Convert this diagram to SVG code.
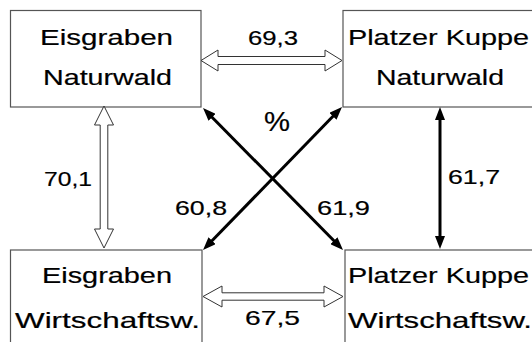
<svg xmlns="http://www.w3.org/2000/svg" width="532" height="342" viewBox="0 0 532 342">
<style>
.box{fill:#fff;stroke:#555;stroke-width:1.2}
.t{font-family:"Liberation Sans",Arial,sans-serif;font-size:22px;fill:#000;stroke:#000;stroke-width:0.2}
.n{font-family:"Liberation Sans",Arial,sans-serif;font-size:21px;fill:#000;stroke:#000;stroke-width:0.2}
.hollow{fill:#fff;stroke:#333;stroke-width:1}
.solid{stroke:#000;stroke-width:3;fill:none;marker-start:url(#ah);marker-end:url(#ah)}
</style>
<defs>
<marker id="ah" markerUnits="userSpaceOnUse" markerWidth="13" markerHeight="10" refX="5" refY="5" orient="auto-start-reverse" viewBox="0 0 13 10">
<path d="M0,0 L13,5 L0,10 z" fill="#000"/>
</marker>
</defs>
<rect width="532" height="342" fill="#fff"/>
<g id="node-eisgraben-naturwald">
<rect class="box" x="10.5" y="10.5" width="190.5" height="96.5"/>
<text class="t" x="40" y="45" textLength="133" lengthAdjust="spacingAndGlyphs">Eisgraben</text>
<text class="t" x="43" y="85" textLength="129" lengthAdjust="spacingAndGlyphs">Naturwald</text>
</g>
<g id="node-platzer-naturwald">
<rect class="box" x="343" y="10.5" width="200" height="96.5"/>
<text class="t" x="348" y="45" textLength="181" lengthAdjust="spacingAndGlyphs">Platzer Kuppe</text>
<text class="t" x="376" y="85" textLength="128" lengthAdjust="spacingAndGlyphs">Naturwald</text>
</g>
<g id="node-eisgraben-wirtschaftsw">
<rect class="box" x="10.5" y="250" width="191.5" height="100"/>
<text class="t" x="42" y="283" textLength="130" lengthAdjust="spacingAndGlyphs">Eisgraben</text>
<text class="t" x="15" y="328" textLength="185" lengthAdjust="spacingAndGlyphs">Wirtschaftsw.</text>
</g>
<g id="node-platzer-wirtschaftsw">
<rect class="box" x="345" y="250" width="200" height="100"/>
<text class="t" x="348" y="283" textLength="181" lengthAdjust="spacingAndGlyphs">Platzer Kuppe</text>
<text class="t" x="348" y="328" textLength="184" lengthAdjust="spacingAndGlyphs">Wirtschaftsw.</text>
</g>
<g id="connectors">
<polygon class="hollow" points="201,60.5 218,50 218,56.5 325,56.5 325,50 342,60.5 325,71 325,64.5 218,64.5 218,71"/>
<polygon class="hollow" points="104,106 113.5,125 107.8,125 107.8,229 113.5,229 104,248 94.5,229 100.2,229 100.2,125 94.5,125"/>
<polygon class="hollow" points="203,296.5 222,286 222,292.8 324,292.8 324,286 343,296.5 324,307 324,300.2 222,300.2 222,307"/>
<line class="solid" x1="440" y1="115" x2="440" y2="241"/>
<line class="solid" x1="208.6" y1="113.7" x2="337.4" y2="244.3"/>
<line class="solid" x1="336.4" y1="112.7" x2="208.6" y2="244.3"/>
</g>
<g id="labels">
<text class="n" x="248" y="45" textLength="50" lengthAdjust="spacingAndGlyphs">69,3</text>
<text class="n" x="44" y="186" textLength="48" lengthAdjust="spacingAndGlyphs">70,1</text>
<text class="n" x="245" y="325" textLength="55" lengthAdjust="spacingAndGlyphs">67,5</text>
<text class="n" x="448" y="184" textLength="52" lengthAdjust="spacingAndGlyphs">61,7</text>
<text class="n" x="175" y="215" textLength="52" lengthAdjust="spacingAndGlyphs">60,8</text>
<text class="n" x="317" y="215" textLength="53" lengthAdjust="spacingAndGlyphs">61,9</text>
<text class="n" x="264" y="131" style="font-size:27px" textLength="26" lengthAdjust="spacingAndGlyphs">%</text>
</g>
</svg>
